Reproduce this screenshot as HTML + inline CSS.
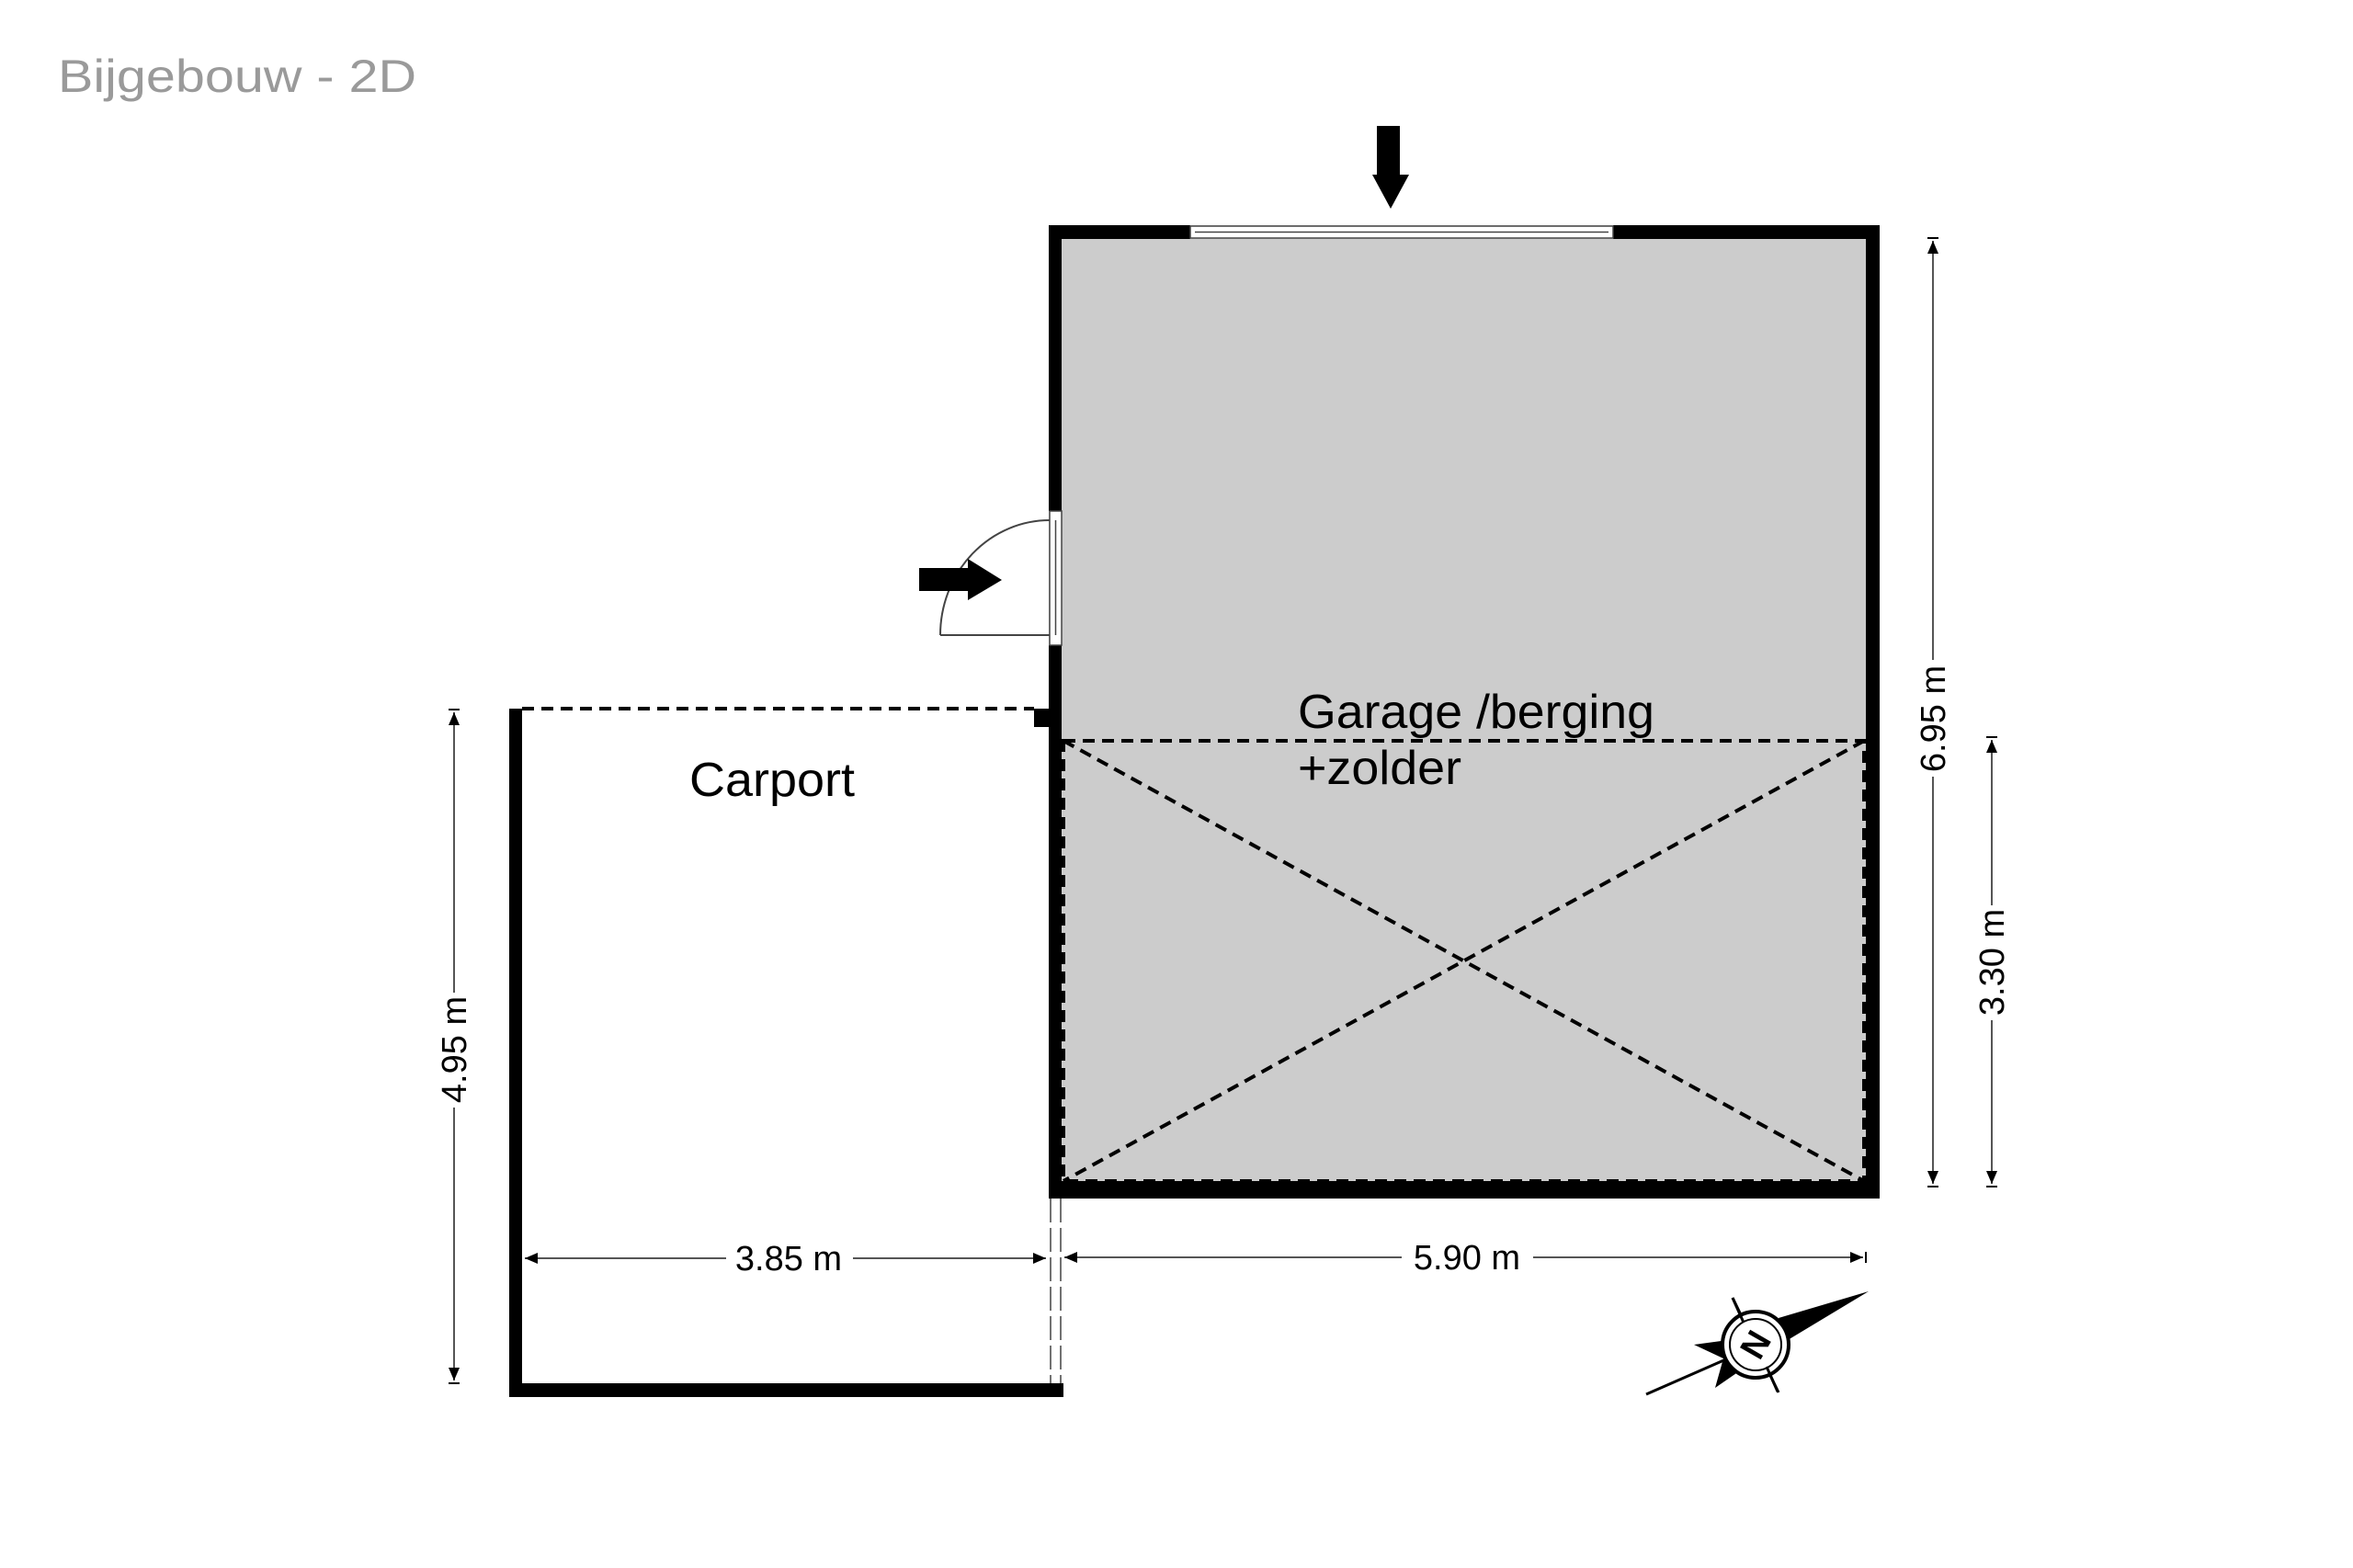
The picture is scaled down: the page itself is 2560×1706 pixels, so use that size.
<!DOCTYPE html>
<html><head><meta charset="utf-8"><style>
html,body{margin:0;padding:0;background:#fff;}
svg{display:block;}
</style></head><body>
<svg width="2560" height="1706" viewBox="0 0 2560 1706" xmlns="http://www.w3.org/2000/svg">
<text x="63" y="100" font-family="Liberation Sans, sans-serif" font-size="50" fill="#9a9a9a" textLength="390" lengthAdjust="spacingAndGlyphs">Bijgebouw - 2D</text>

<rect x="1141" y="245" width="904" height="1059" fill="#cccccc"/>
<g fill="#000">
<rect x="1141" y="245" width="154" height="15"/>
<rect x="1755" y="245" width="290" height="15"/>
<rect x="2030" y="245" width="15" height="1059"/>
<rect x="1141" y="1285" width="904" height="19"/>
<rect x="1141" y="245" width="14" height="311"/>
<rect x="1141" y="702" width="14" height="602"/>
<rect x="1125" y="771" width="16" height="20"/>
</g>
<rect x="1295" y="246" width="460" height="13" fill="#fff" stroke="#444" stroke-width="1.5"/>
<line x1="1300" y1="252.5" x2="1750" y2="252.5" stroke="#444" stroke-width="1.5"/>
<rect x="1142" y="556" width="13" height="146" fill="#fff" stroke="#444" stroke-width="1.5"/>
<line x1="1148.5" y1="566" x2="1148.5" y2="691" stroke="#444" stroke-width="1.5"/>
<path d="M1023 691 L1142 691 M1023 691 A119 125 0 0 1 1142 566" fill="none" stroke="#444" stroke-width="2"/>

<path d="M1498 137 H1523 V190 H1533 L1513 227 L1493 190 H1498 Z" fill="#000"/>
<path d="M1000 618 H1053 V608 L1090 631 L1053 653 V643 H1000 Z" fill="#000"/>

<g stroke="#000" stroke-width="4" stroke-dasharray="13,8" fill="none">
<rect x="1157" y="806" width="871" height="479"/>
<line x1="1157" y1="806" x2="2028" y2="1285"/>
<line x1="2028" y1="806" x2="1157" y2="1285"/>
<line x1="568" y1="771" x2="1125" y2="771"/>
</g>
<g stroke="#444" stroke-width="1.5" stroke-dasharray="26,6" fill="none">
<line x1="1143" y1="1304" x2="1143" y2="1520"/>
<line x1="1154" y1="1304" x2="1154" y2="1520"/>
</g>

<rect x="554" y="771" width="14" height="749" fill="#000"/>
<rect x="554" y="1505" width="603" height="15" fill="#000"/>

<g font-family="Liberation Sans, sans-serif" font-size="52" fill="#000">
<text x="1412" y="792" textLength="388" lengthAdjust="spacingAndGlyphs">Garage /berging</text>
<text x="1412" y="853" textLength="178" lengthAdjust="spacingAndGlyphs">+zolder</text>
<text x="750" y="866" textLength="180" lengthAdjust="spacingAndGlyphs">Carport</text>
</g>

<g stroke="#555" stroke-width="2" fill="none">
<line x1="2103" y1="262" x2="2103" y2="718"/><line x1="2103" y1="845" x2="2103" y2="1288"/>
<line x1="2167" y1="805" x2="2167" y2="985"/><line x1="2167" y1="1110" x2="2167" y2="1288"/>
<line x1="494" y1="775" x2="494" y2="1080"/><line x1="494" y1="1205" x2="494" y2="1502"/>
<line x1="571" y1="1369" x2="790" y2="1369"/><line x1="928" y1="1369" x2="1138" y2="1369"/>
<line x1="1158" y1="1368" x2="1525" y2="1368"/><line x1="1668" y1="1368" x2="2027" y2="1368"/>
</g>
<g fill="#000">
<path d="M2103 262 l-6 14 h12z M2103 1288 l-6 -14 h12z"/>
<path d="M2167 805 l-6 14 h12z M2167 1288 l-6 -14 h12z"/>
<path d="M494 775 l-6 14 h12z M494 1502 l-6 -14 h12z"/>
<path d="M571 1369 l14 -6 v12z M1138 1369 l-14 -6 v12z"/>
<path d="M1158 1368 l14 -6 v12z M2027 1368 l-14 -6 v12z"/>
</g>
<g stroke="#000" stroke-width="2">
<line x1="2097" y1="259" x2="2109" y2="259"/><line x1="2097" y1="1291" x2="2109" y2="1291"/>
<line x1="2161" y1="802" x2="2173" y2="802"/><line x1="2161" y1="1291" x2="2173" y2="1291"/>
<line x1="488" y1="772" x2="500" y2="772"/><line x1="488" y1="1505" x2="500" y2="1505"/>
<line x1="2030" y1="1362" x2="2030" y2="1374"/>
</g>
<g font-family="Liberation Sans, sans-serif" font-size="38" fill="#000" text-anchor="middle">
<text x="858" y="1382">3.85 m</text>
<text x="1596" y="1381">5.90 m</text>
<text transform="translate(2116 782) rotate(-90)">6.95 m</text>
<text transform="translate(2180 1047) rotate(-90)">3.30 m</text>
<text transform="translate(507 1142) rotate(-90)">4.95 m</text>
</g>

<g>
<line x1="1791" y1="1517" x2="1880" y2="1478" stroke="#000" stroke-width="3"/>
<path d="M1935 1434 L2033 1405 L1945 1458 Z" fill="#000"/>
<path d="M1843 1463 L1880 1458 L1895 1490 L1866 1510 L1875 1478 Z" fill="#000"/>
<line x1="1885" y1="1412" x2="1935" y2="1515" stroke="#000" stroke-width="3"/>
<circle cx="1910" cy="1463" r="36" fill="#fff" stroke="#000" stroke-width="4"/>
<circle cx="1910" cy="1463" r="28" fill="none" stroke="#000" stroke-width="2"/>
<line x1="1885" y1="1412" x2="1897" y2="1439" stroke="#000" stroke-width="3"/>
<line x1="1922" y1="1487" x2="1934" y2="1514" stroke="#000" stroke-width="3"/>
<text x="1910" y="1476" font-family="Liberation Sans, sans-serif" font-weight="bold" font-size="38" text-anchor="middle" transform="rotate(-60 1910 1463)">N</text>
</g>
</svg>
</body></html>
